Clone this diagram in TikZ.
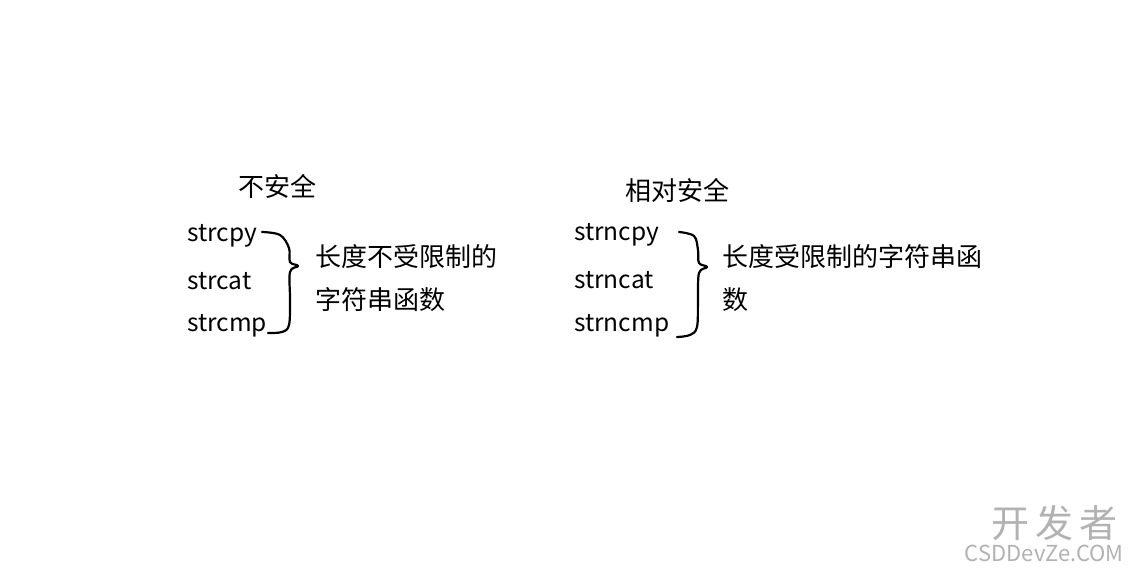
\documentclass[tikz,border=0pt]{standalone}
\usepackage{fontspec}
\setmainfont{Noto Sans CJK SC}
\tikzset{
  fn/.style = {anchor = west, font = \fontsize{24.5pt}{28pt}\selectfont, inner sep = 0pt},
  zh/.style = {anchor = west, font = \fontsize{26pt}{30pt}\selectfont, inner sep = 0pt},
  brace/.style = {line width = 2.2pt, line cap = round, line join = round}
}
\begin{document}
\begin{tikzpicture}[x = 1pt, y = -1pt]
    \useasboundingbox[fill = white] (0,0) rectangle (1128,573);
    % unsafe functions
    \node[zh] (unsafe) at (238,186) {不安全};
    \node[fn] (cpy) at (187,236) {strcpy};
    \node[fn] (cat) at (187,281) {strcat};
    \node[fn] (cmp) at (187,326) {strcmp};
    \draw[brace] plot[smooth, tension = 0.6] coordinates{(262,232) (280,235) (289,248) (290,262) (298,266) (290,272) (290,300) (289,325) (282,332) (268,333)};
    \node[zh] (unsafedesc) at (315,257) {长度不受限制的};
    \node[zh] (unsafedesc2) at (315,300) {字符串函数};
    % relatively safe functions
    \node[zh] (safe) at (625,190) {相对安全};
    \node[fn] (ncpy) at (574,235) {strncpy};
    \node[fn] (ncat) at (574,280) {strncat};
    \node[fn] (ncmp) at (574,326) {strncmp};
    \draw[brace] plot[smooth, tension = 0.6] coordinates{(679,232) (694,236) (698,250) (699,263) (707,267) (699,273) (698,300) (697,327) (690,335) (677,337)};
    \node[zh] (safedesc) at (722,257) {长度受限制的字符串函};
    \node[zh] (safedesc2) at (722,300) {数};
    % watermark
    \node[anchor = east, inner sep = 0pt, font = \fontsize{38pt}{40pt}\selectfont, text = gray!60] (wm) at (1118,523) {开\,发\,者};
    \node[anchor = east, inner sep = 0pt, font = \fontsize{22pt}{24pt}\selectfont, text = gray!60] (wm2) at (1124,553) {CSDDevZe.COM};
\end{tikzpicture}
\end{document}
